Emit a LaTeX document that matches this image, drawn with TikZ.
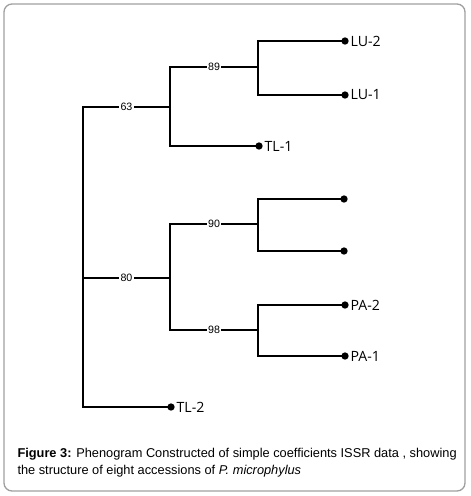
\documentclass[tikz,border=0pt]{standalone}
\usepackage{fontspec}
\setmainfont{Liberation Sans}
\newfontfamily\tipfont{Open Sans}

\tikzset{every picture/.style={line width=0.75pt}}
\tikzset{
  branch/.style={line width=2.1pt, line cap=rect},
  blab/.style={fill=white, inner sep=1pt, font=\fontsize{8}{9}\selectfont},
  tip/.style={circle, fill=black, inner sep=0pt, minimum size=5.5pt},
  tiplab/.style={anchor=west, inner sep=0.75pt, font=\tipfont\fontsize{10.6}{12}\selectfont}
}

\begin{document}
\begin{tikzpicture}[x=0.75pt,y=0.75pt,yscale=-1,xscale=1]
		\useasboundingbox (0,0) rectangle (471,496);
		
		%Frame
		\draw [color={rgb, 255:red, 160; green, 160; blue, 160 }, line width=1pt, rounded corners=6] (4,4) rectangle (465,491);
		
		% inner nodes
		\coordinate (root) at (83,278);
		\coordinate (n63) at (170,107);
		\coordinate (n89) at (258,67);
		\coordinate (n80) at (170,278);
		\coordinate (n90) at (258,224);
		\coordinate (n98) at (258,330);
		
		% Tips
		\node [tip] (lu2) at (345,41) {};
		\node [tip] (lu1) at (345,95) {};
		\node [tip] (tl1) at (259,146) {};
		\node [tip] (acc1) at (344,199) {};
		\node [tip] (acc2) at (344,251) {};
		\node [tip] (pa2) at (345,305) {};
		\node [tip] (pa1) at (345,356) {};
		\node [tip] (tl2) at (171,407) {};
		
		% Branches
		\draw [branch] (root) |- node [blab, pos=0.75] {63} (n63);
		\draw [branch] (root) |- (tl2.center);
		\draw [branch] (root) -- node [blab] {80} (n80);
		\draw [branch] (n63) |- node [blab, pos=0.75] {89} (n89);
		\draw [branch] (n63) |- (tl1.center);
		\draw [branch] (n89) |- (lu2.center);
		\draw [branch] (n89) |- (lu1.center);
		\draw [branch] (n80) |- node [blab, pos=0.75] {90} (n90);
		\draw [branch] (n80) |- node [blab, pos=0.75] {98} (n98);
		\draw [branch] (n90) |- (acc1.center);
		\draw [branch] (n90) |- (acc2.center);
		\draw [branch] (n98) |- (pa2.center);
		\draw [branch] (n98) |- (pa1.center);
		
		% Text Node
		\node [tiplab] (lu2lab) at (lu2.east) {LU-2};
		\node [tiplab] (lu1lab) at (lu1.east) {LU-1};
		\node [tiplab] (tl1lab) at (tl1.east) {TL-1};
		\node [tiplab] (pa2lab) at (pa2.east) {PA-2};
		\node [tiplab] (pa1lab) at (pa1.east) {PA-1};
		\node [tiplab] (tl2lab) at (tl2.east) {TL-2};
		
		% Caption
		\node [anchor=north west, inner sep=0pt, align=left, font=\fontsize{9.6}{12.6}\selectfont] (caption) at (17,448) {\textbf{Figure 3:} Phenogram Constructed of simple coefficients ISSR data , showing\\the structure of eight accessions of \textit{P. microphylus}};
	\end{tikzpicture}
\end{document}
